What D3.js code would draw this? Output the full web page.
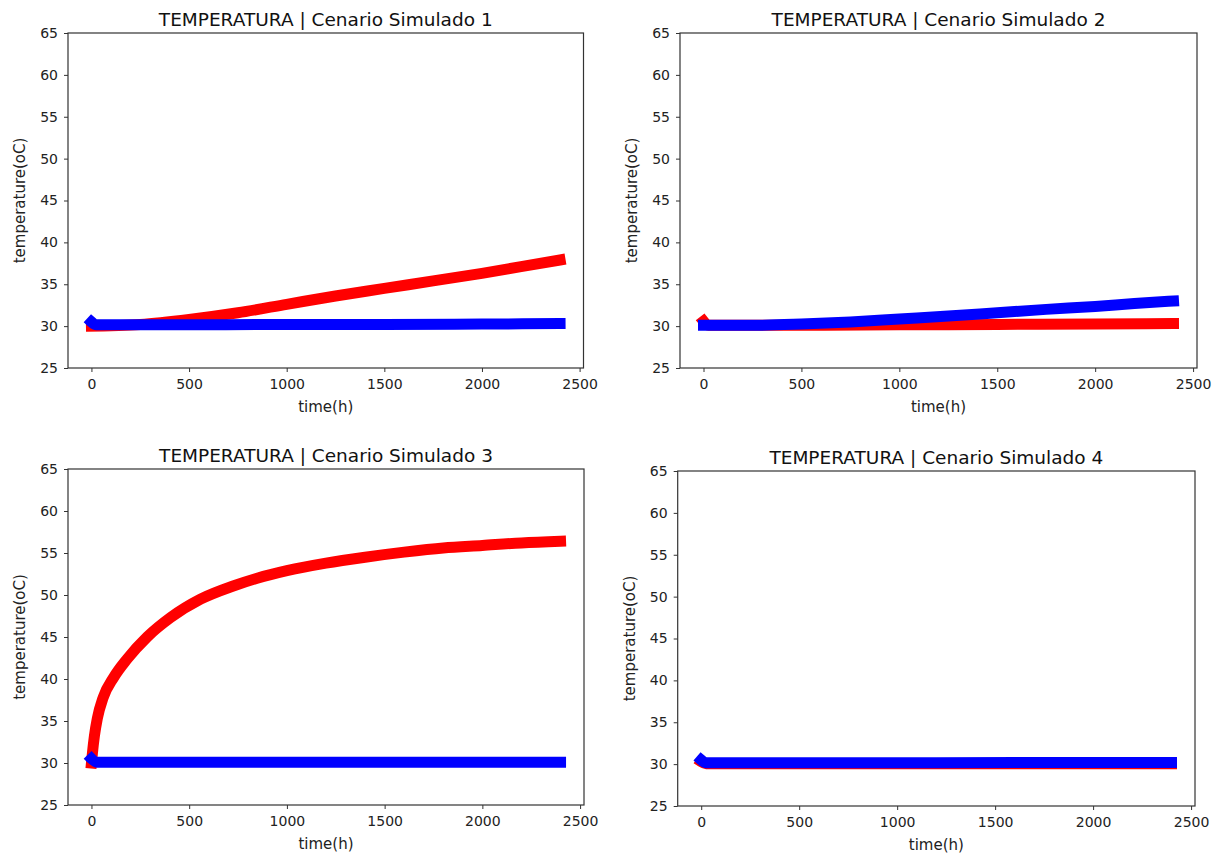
<!DOCTYPE html>
<html><head><meta charset="utf-8">
<script src="https://cdn.jsdelivr.net/npm/d3@7"></script>
<style>body{margin:0;background:#fff}svg{display:block}</style>
</head><body>
<svg id="chart" width="1218" height="854"></svg>
<script>
// ---------- data ----------
const titles = ["TEMPERATURA | Cenario Simulado 1","TEMPERATURA | Cenario Simulado 2","TEMPERATURA | Cenario Simulado 3","TEMPERATURA | Cenario Simulado 4"];
const timeTicks = [0,500,1000,1500,2000,2500];
const tempTicks = [25,30,35,40,45,50,55,60,65];
const timeDomain = [-120, 2520];
const tempDomain = [25, 65];

// scenario 1
const s1RedTime  = [0,250,500,750,1000,1250,1500,1750,2000,2200,2400];
const s1Red      = [30.0,30.2,30.8,31.6,32.6,33.6,34.5,35.4,36.3,37.1,37.9];
const s1BlueTime = [0,25,500,1000,1500,2000,2400];
const s1Blue     = [30.5,30.15,30.15,30.2,30.2,30.25,30.3];
// scenario 2
const s2RedTime  = [0,25,500,1000,1500,2000,2400];
const s2Red      = [30.6,30.1,30.1,30.15,30.2,30.25,30.3];
const s2BlueTime = [0,250,500,750,1000,1250,1500,1750,2000,2200,2400];
const s2Blue     = [30.1,30.1,30.25,30.5,30.85,31.2,31.6,32.0,32.35,32.7,33.0];
// scenario 3
const s3RedTime  = [0,5,15,30,60,114,183,285,404,558,729,848,1000,1200,1400,1600,1800,2000,2200,2400];
const s3Red      = [30.0,31.2,33.2,35.3,37.8,40.2,42.4,45.0,47.3,49.5,51.1,52.0,52.9,53.8,54.5,55.1,55.6,55.9,56.2,56.4];
const s3BlueTime = [0,25,1200,2400];
const s3Blue     = [30.5,30.1,30.1,30.1];
// scenario 4
const s4RedTime  = [0,25,1200,2400];
const s4Red      = [30.3,30.05,30.05,30.05];
const s4BlueTime = [0,25,1200,2400];
const s4Blue     = [30.5,30.17,30.17,30.2];

const scenarios = [
  {red:[s1RedTime,s1Red], blue:[s1BlueTime,s1Blue]},
  {red:[s2RedTime,s2Red], blue:[s2BlueTime,s2Blue]},
  {red:[s3RedTime,s3Red], blue:[s3BlueTime,s3Blue]},
  {red:[s4RedTime,s4Red], blue:[s4BlueTime,s4Blue]}
];

// ---------- layout ----------
const panels = [
  {l:68, r:583.5, t:33, b:368},
  {l:680, r:1197, t:33, b:368},
  {l:68, r:584, t:469, b:805},
  {l:677.7, r:1195, t:471, b:806}
];
const FONT = "DejaVu Sans, sans-serif";
const svg = d3.select("#chart");

panels.forEach((p, i) => {
  const x = d3.scaleLinear().domain(timeDomain).range([p.l, p.r]);
  const y = d3.scaleLinear().domain(tempDomain).range([p.b, p.t]);
  const g = svg.append("g");

  const clipId = "clip" + i;
  svg.append("clipPath").attr("id", clipId).append("rect")
    .attr("x", p.l).attr("y", p.t).attr("width", p.r - p.l).attr("height", p.b - p.t);

  const line = d3.line().x(d => x(d[0])).y(d => y(d[1])).curve(d3.curveMonotoneX);
  const sc = scenarios[i];
  [["red", "#ff0000"], ["blue", "#0000ff"]].forEach(([k, c]) => {
    const pts = sc[k][0].map((t, j) => [t, sc[k][1][j]]);
    g.append("path").attr("d", line(pts))
      .attr("clip-path", `url(#${clipId})`)
      .attr("fill", "none").attr("stroke", c).attr("stroke-width", 11)
      .attr("stroke-linecap", "square").attr("stroke-linejoin", "round");
  });

  // axes
  const xAxis = d3.axisBottom(x).tickValues(timeTicks).tickSize(4).tickPadding(7).tickFormat(d3.format("d"));
  const yAxis = d3.axisLeft(y).tickValues(tempTicks).tickSize(4).tickPadding(6).tickFormat(d3.format("d"));
  const gx = svg.append("g").attr("transform", `translate(0,${p.b})`).call(xAxis);
  const gy = svg.append("g").attr("transform", `translate(${p.l},0)`).call(yAxis);
  [gx, gy].forEach(a => {
    a.select(".domain").remove();
    a.selectAll(".tick line").attr("stroke", "#333").attr("stroke-width", 1);
    a.selectAll(".tick text").attr("fill", "#222").style("font-family", FONT).style("font-size", "14px");
  });
  // frame
  svg.append("rect").attr("x", p.l).attr("y", p.t).attr("width", p.r - p.l).attr("height", p.b - p.t)
    .attr("fill", "none").attr("stroke", "#333").attr("stroke-width", 1.2);

  // title
  svg.append("text").attr("x", (p.l + p.r) / 2).attr("y", p.t - 7)
    .attr("text-anchor", "middle").attr("fill", "#111")
    .style("font-family", FONT).style("font-size", "18.5px").text(titles[i]);
  // x label
  svg.append("text").attr("x", (p.l + p.r) / 2).attr("y", p.b + 44)
    .attr("text-anchor", "middle").attr("fill", "#222")
    .style("font-family", FONT).style("font-size", "15px").text("time(h)");
  // y label
  svg.append("text").attr("transform", `translate(${p.l - 48},${(p.t + p.b) / 2}) rotate(-90)`)
    .attr("text-anchor", "middle").attr("dominant-baseline", "central").attr("fill", "#222")
    .style("font-family", FONT).style("font-size", "15px").text("temperature(oC)");
});
</script>
</body></html>
